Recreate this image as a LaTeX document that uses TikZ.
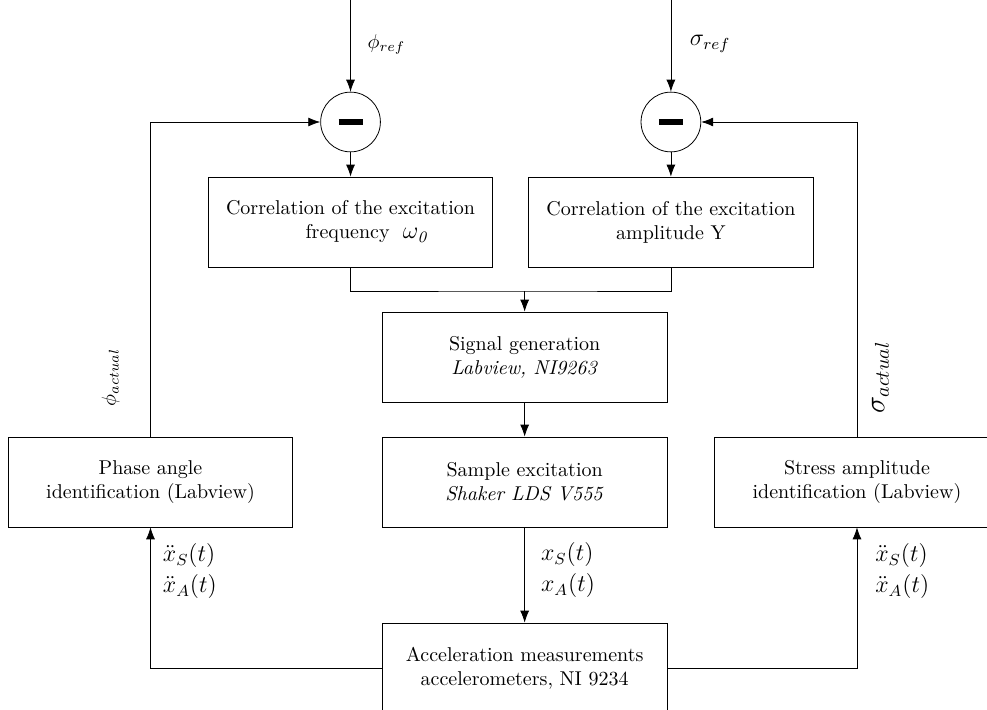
\documentclass[tikz,border=0pt]{standalone}
\usepackage{amssymb, amsmath}
\usepackage{tikz}
\usetikzlibrary{arrows.meta}

\begin{document}
\begin{tikzpicture}[>={Latex[length=6pt,width=4.5pt]},
		blk/.style={draw,align=center,minimum width=5cm,minimum height=1.58cm,inner sep=2pt},
		sumpt/.style={draw,circle,minimum size=1.05cm,inner sep=0pt},
		lbl/.style={font=\large,align=left,inner sep=0pt}]
		\useasboundingbox(0,0)rectangle(17.345,12.477);
		\coordinate(phin)at(6.16,12.477);
		\coordinate(sgin)at(11.79,12.477);
		\node[sumpt](sumL)at(6.16,10.333){\rule{12pt}{3pt}};
		\node[sumpt](sumR)at(11.79,10.333){\rule{12pt}{3pt}};
		\node[blk](corrf)at(6.16,8.576){Correlation of the excitation\\\hspace*{17pt}frequency\ \ {\large$\omega_{\mathit{0}}$}};
		\node[blk](corra)at(11.79,8.576){Correlation of the excitation\\amplitude Y};
		\coordinate(mrg)at(9.22,7.363);
		\node[blk](sig)at(9.22,6.203){Signal generation\\\textit{Labview, NI9263}};
		\node[blk](smp)at(9.22,4.007){Sample excitation\\\textit{Shaker LDS V555}};
		\node[blk](acc)at(9.22,0.738){Acceleration measurements\\accelerometers, NI 9234};
		\node[blk](phase)at(2.645,4.007){Phase angle\\identification (Labview)};
		\node[blk](stress)at(15.06,4.007){Stress amplitude\\identification (Labview)};
		\draw[->](phin)--(sumL)node[pos=.48,right=5pt]{$\phi_{ref}$};
		\draw[->](sgin)--(sumR)node[pos=.48,right=6pt]{\large$\sigma_{ref}$};
		\draw[->](sumL)--(corrf);
		\draw[->](sumR)--(corra);
		\draw(corrf.south)|-(mrg)-|(corra.south);
		\draw[->](mrg)--(sig);
		\draw[->](sig)--(smp);
		\draw[->](smp)--(acc)node[lbl,pos=.45,right=8pt]{$x_S(t)$\\[1.5pt]$x_A(t)$};
		\draw[->](phase.north)|-(sumL.west)node[pos=.094,above=12pt,sloped]{$\phi_{actual}$};
		\draw[->](stress.north)|-(sumR.east)node[pos=.094,below=4pt,sloped]{\Large$\sigma_{actual}$};
		\draw[->](acc.west)-|(phase.south)node[lbl,pos=.845,right=6pt]{$\ddot{x}_S(t)$\\[1.5pt]$\ddot{x}_A(t)$};
		\draw[->](acc.east)-|(stress.south)node[lbl,pos=.845,right=9pt]{$\ddot{x}_S(t)$\\[1.5pt]$\ddot{x}_A(t)$};
	\end{tikzpicture}
\end{document}
